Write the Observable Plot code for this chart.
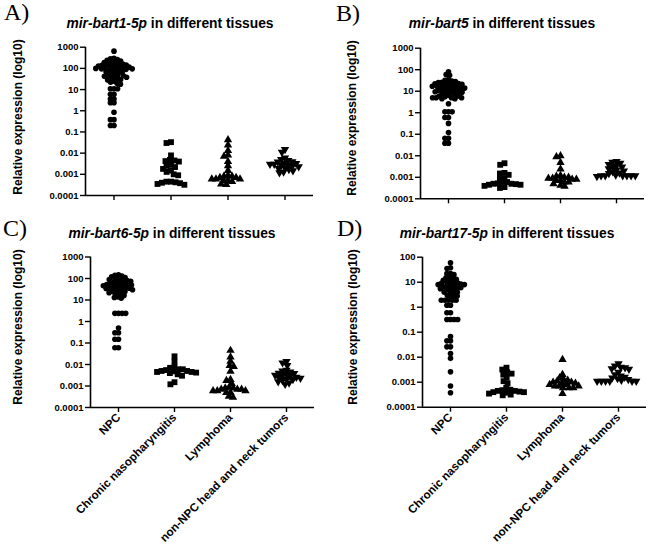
<!DOCTYPE html>
<html>
<head>
<meta charset="utf-8">
<script src="https://cdn.jsdelivr.net/npm/d3@7"></script>
<script src="https://cdn.jsdelivr.net/npm/@observablehq/plot@0.6"></script>
<style>
  body { margin: 0; background: #fff; }
  #wrap { position: relative; width: 650px; height: 548px; overflow: hidden; background: #fff; }
  .panel { position: absolute; }
  #overlay { position: absolute; left: 0; top: 0; pointer-events: none; }
</style>
</head>
<body>
<div id="wrap"></div>
<script>
// ---------------- data ----------------
const categories = ["NPC", "Chronic nasopharyngitis", "Lymphoma", "non-NPC head and neck tumors"];
const yTicks = [0.0001, 0.001, 0.01, 0.1, 1, 10, 100, 1000];
const yTickLabels = ["0.0001", "0.001", "0.01", "0.1", "1", "10", "100", "1000"];
const panelLetters = ["A)", "B)", "C)", "D)"];
const panelGenes = ["mir-bart1-5p", "mir-bart5", "mir-bart6-5p", "mir-bart17-5p"];
const titleSuffix = " in different tissues";
const yLabel = "Relative expression (log10)";

// Panel A: mir-bart1-5p
const a_npc = [650, 300, 280, 260, 240, 220, 200, 190, 180, 170, 160, 150, 145, 140, 135, 130, 125, 120, 115, 110, 105, 100, 100, 95, 95, 90, 85, 80, 75, 70, 65, 60, 55, 50, 48, 45, 42, 40, 38, 35, 33, 30, 28, 25, 22, 20, 18, 11, 11, 11, 6, 6, 3.6, 3.6, 2.4, 2.4, 0.85, 0.38, 0.38, 0.2, 0.2];
const a_chronic = [0.033, 0.030, 0.0078, 0.0048, 0.0045, 0.0042, 0.004, 0.0028, 0.0025, 0.0022, 0.0018, 0.0015, 0.0013, 0.001, 0.0009, 0.00045, 0.00045, 0.00042, 0.0004, 0.00038, 0.00035, 0.00032];
const a_lymphoma = [0.042, 0.024, 0.013, 0.008, 0.007, 0.004, 0.0025, 0.0015, 0.0009, 0.0008, 0.0008, 0.0007, 0.0007, 0.0006, 0.0006, 0.0006, 0.0005, 0.0005, 0.00045, 0.00035, 0.00033];
const a_nonnpc = [0.015, 0.011, 0.006, 0.005, 0.0045, 0.004, 0.0038, 0.0035, 0.0033, 0.003, 0.003, 0.0028, 0.0027, 0.0025, 0.0023, 0.002, 0.0019, 0.0017, 0.0015, 0.0013, 0.0012];

// Panel B: mir-bart5
const b_npc = [80, 60, 55, 35, 32, 30, 28, 26, 25, 24, 23, 22, 21, 20, 19, 18, 18, 17, 16, 15, 15, 14, 14, 13, 12, 12, 11, 11, 10, 10, 9.5, 9, 8.5, 8, 7.5, 7, 6.5, 6, 6, 5.5, 5, 5, 5, 5, 4.5, 4.5, 2.6, 1.1, 1.1, 1.1, 0.6, 0.6, 0.32, 0.12, 0.065, 0.065, 0.038, 0.038];
const b_chronic = [0.0045, 0.0038, 0.0016, 0.0015, 0.0013, 0.0009, 0.0009, 0.0006, 0.00055, 0.00052, 0.0005, 0.0005, 0.00048, 0.00045, 0.00045, 0.0004, 0.00035, 0.00032];
const b_lymphoma = [0.01, 0.009, 0.0048, 0.0024, 0.0012, 0.0011, 0.001, 0.001, 0.0009, 0.0009, 0.0008, 0.0008, 0.0007, 0.0007, 0.0006, 0.0006, 0.0005, 0.00042, 0.00038];
const b_nonnpc = [0.0055, 0.005, 0.0045, 0.004, 0.0035, 0.003, 0.003, 0.0025, 0.0022, 0.002, 0.0018, 0.0016, 0.0015, 0.0013, 0.0012, 0.0012, 0.0012, 0.0012, 0.0012, 0.0012, 0.0011];

// Panel C: mir-bart6-5p
const c_npc = [150, 140, 130, 120, 110, 100, 95, 90, 85, 80, 75, 70, 65, 62, 60, 58, 55, 52, 50, 48, 46, 44, 42, 40, 38, 36, 35, 34, 32, 30, 28, 26, 25, 24, 22, 20, 18, 16, 14, 13, 12, 2.4, 2.4, 2.4, 2.4, 0.5, 0.3, 0.3, 0.15, 0.15, 0.06, 0.06];
const c_chronic = [0.024, 0.014, 0.008, 0.007, 0.006, 0.006, 0.0055, 0.005, 0.005, 0.0048, 0.0045, 0.0045, 0.0042, 0.004, 0.0035, 0.003, 0.0015, 0.0012];
const c_lymphoma = [0.045, 0.022, 0.014, 0.009, 0.008, 0.0048, 0.002, 0.0018, 0.0013, 0.0009, 0.0008, 0.0008, 0.0007, 0.0007, 0.0007, 0.0006, 0.0006, 0.0006, 0.0005, 0.0005, 0.00033, 0.0003];
const c_nonnpc = [0.014, 0.012, 0.009, 0.0055, 0.005, 0.0045, 0.004, 0.0038, 0.0035, 0.0032, 0.003, 0.0028, 0.0026, 0.0025, 0.0023, 0.002, 0.002, 0.0018, 0.0016, 0.0014, 0.0012];

// Panel D: mir-bart17-5p
const d_npc = [60, 38, 35, 22, 22, 20, 16, 15, 14, 13, 12, 11, 10, 10, 9.5, 9, 8.5, 8, 8, 7.5, 7, 7, 6.5, 6, 6, 5.5, 5, 5, 4.5, 4, 4, 3.5, 3, 3, 2.8, 2.5, 1.9, 1.9, 1.9, 1.9, 1.9, 1.2, 1.2, 0.6, 0.6, 0.32, 0.32, 0.32, 0.32, 0.067, 0.045, 0.045, 0.026, 0.026, 0.014, 0.009, 0.0026, 0.0007, 0.00038];
const d_chronic = [0.0038, 0.0032, 0.0025, 0.0022, 0.002, 0.0015, 0.0011, 0.0009, 0.0006, 0.0005, 0.00048, 0.00045, 0.00045, 0.00042, 0.0004, 0.0004, 0.00038, 0.00035, 0.00032, 0.0003];
const d_lymphoma = [0.008, 0.002, 0.0015, 0.0013, 0.0012, 0.0011, 0.001, 0.001, 0.0009, 0.0009, 0.0008, 0.0008, 0.0007, 0.0007, 0.0007, 0.0006, 0.0006, 0.0006, 0.00035];
const d_nonnpc = [0.0055, 0.0045, 0.004, 0.0038, 0.0035, 0.0033, 0.0025, 0.002, 0.0018, 0.0016, 0.0015, 0.0014, 0.0013, 0.0012, 0.0011, 0.0011, 0.0011, 0.0011, 0.0011, 0.0011];

const panelValues = [
  [a_npc, a_chronic, a_lymphoma, a_nonnpc],
  [b_npc, b_chronic, b_lymphoma, b_nonnpc],
  [c_npc, c_chronic, c_lymphoma, c_nonnpc],
  [d_npc, d_chronic, d_lymphoma, d_nonnpc]
];
const panelTop = [1000, 1000, 1000, 100];

// ---------------- layout ----------------
const layout = [
  {left: 0,   top: 0,   w: 325, h: 215, ml: 85,   mr: 12, mt: 46.7, mb: 20,    labels: false},
  {left: 325, top: 0,   w: 325, h: 215, ml: 93,   mr: 5,  mt: 47.7, mb: 16.7,  labels: false},
  {left: 0,   top: 215, w: 325, h: 333, ml: 88,   mr: 10, mt: 41.5, mb: 141,   labels: true},
  {left: 325, top: 215, w: 325, h: 333, ml: 96.7, mr: 3,  mt: 41.7, mb: 141.3, labels: true}
];
const symbolSpec = [
  {symbol: "circle", r: 2.8, rotate: 0},
  {symbol: "square", r: 3.3, rotate: 0},
  {symbol: "triangle", r: 3.1, rotate: 0},
  {symbol: "triangle", r: 3.1, rotate: 180}
];
const FONT = "'Liberation Sans', Arial, sans-serif";

const wrap = document.getElementById("wrap");

layout.forEach((L, p) => {
  const top = panelTop[p];
  const ticks = yTicks.filter(t => t <= top);
  const labelOf = new Map(yTicks.map((t, i) => [t, yTickLabels[i]]));
  const dotMarks = categories.map((c, i) => {
    const data = panelValues[p][i].map(v => ({cat: c, v}));
    const s = symbolSpec[i];
    return Plot.dot(data, Plot.dodgeX({anchor: "middle", padding: -2.0}, {
      fx: "cat", y: "v", r: s.r, symbol: s.symbol, rotate: s.rotate,
      fill: "black", stroke: "none"
    }));
  });
  const chart = Plot.plot({
    width: L.w, height: L.h,
    marginLeft: L.ml, marginRight: L.mr, marginTop: L.mt, marginBottom: L.mb,
    style: {background: "transparent", fontFamily: FONT, fontSize: "9.5px", fontWeight: "bold", color: "black", overflow: "visible"},
    fx: {domain: categories, padding: 0, label: null},
    x: {domain: [0, 1], axis: null},
    y: {type: "log", domain: [0.0001, top], label: null},
    marks: [
      Plot.ruleY([0.0001], {stroke: "black", strokeWidth: 1.6}),
      Plot.ruleX([0], {stroke: "black", strokeWidth: 1.6, facetAnchor: "left"}),
      Plot.axisY({ticks, tickFormat: d => labelOf.get(d), tickSize: 5, tickPadding: 2, strokeWidth: 1.4, label: null, fontSize: 9.5}),
      Plot.axisFx({anchor: "bottom", tickSize: 5, tickPadding: 3, tickRotate: -45, textAnchor: "end",
        strokeWidth: 1.4, label: null, fontSize: 11.6,
        tickFormat: L.labels ? (d => d) : (() => "")}),
      ...dotMarks
    ]
  });
  chart.classList.add("panel");
  chart.style.left = L.left + "px";
  chart.style.top = L.top + "px";
  wrap.appendChild(chart);
});

// ---------------- overlay text ----------------
const ov = d3.select(wrap).append("svg").attr("id", "overlay").attr("width", 650).attr("height", 548);
const letterPos = [[4, 20], [336, 21], [3, 236], [337, 236]];
const titlePos = [[170, 27.5], [502, 27.5], [172, 238], [507, 238]];
const ylabPos = [[22, 117], [356, 118], [22, 327], [357, 327]];
panelLetters.forEach((t, i) => {
  ov.append("text").attr("x", letterPos[i][0]).attr("y", letterPos[i][1])
    .attr("font-family", "'Liberation Serif', 'Times New Roman', serif").attr("font-size", 24).text(t);
});
panelGenes.forEach((g, i) => {
  const t = ov.append("text").attr("x", titlePos[i][0]).attr("y", titlePos[i][1])
    .attr("text-anchor", "middle").attr("font-family", FONT).attr("font-weight", "bold").attr("font-size", 13.8);
  t.append("tspan").attr("font-style", "italic").text(g);
  t.append("tspan").text(titleSuffix);
});
ylabPos.forEach(([x, y]) => {
  ov.append("text").attr("transform", `translate(${x},${y}) rotate(-90)`)
    .attr("text-anchor", "middle").attr("font-family", FONT).attr("font-weight", "bold").attr("font-size", 12)
    .text(yLabel);
});
</script>
</body>
</html>
